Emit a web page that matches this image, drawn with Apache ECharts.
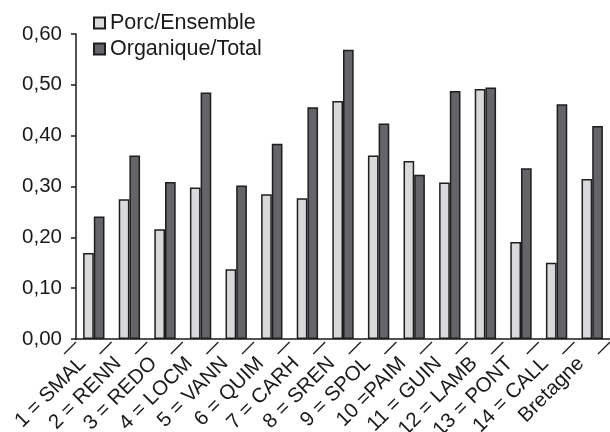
<!DOCTYPE html>
<html>
<head>
<meta charset="utf-8">
<script src="https://cdn.jsdelivr.net/npm/echarts@6/dist/echarts.min.js"></script>
<style>html,body{margin:0;padding:0;background:#fff}#c{width:610px;height:432px}</style>
</head>
<body>
<div id="c"></div>
<script>
const categories = ['1 = SMAL','2 = RENN','3 = REDO','4 = LOCM','5 = VANN','6 = QUIM','7 = CARH','8 = SREN','9 = SPOL','10 =PAIM','11 = GUIN','12 = LAMB','13 = PONT','14 = CALL','Bretagne'];
const porcEnsemble = [0.169,0.275,0.216,0.298,0.137,0.285,0.277,0.468,0.361,0.350,0.308,0.492,0.191,0.150,0.315];
const organiqueTotal = [0.241,0.361,0.309,0.485,0.302,0.384,0.456,0.569,0.424,0.323,0.488,0.495,0.336,0.462,0.419];
const yTicks = [0,0.1,0.2,0.3,0.4,0.5,0.6];

const FONT = '"Liberation Sans", Arial, sans-serif';
const chart = echarts.init(document.getElementById('c'), null, {renderer:'canvas'});
const borderCol = '#1e1e1e';
chart.setOption({
  animation:false,
  backgroundColor:'#fff',
  grid:{left:76,right:0,top:34,bottom:93,containLabel:false,outerBoundsMode:'none'},
  legend:{
    orient:'vertical', left:93, top:12, padding:0, itemWidth:11, itemHeight:11, itemGap:4,
    icon:'rect',
    textStyle:{fontFamily:FONT,fontSize:21.5,color:'#1a1a1a',lineHeight:21},
    data:['Porc/Ensemble','Organique/Total']
  },
  xAxis:{
    type:'category', data:categories,
    axisLine:{lineStyle:{color:'#1a1a1a',width:1.5}},
    axisTick:{show:false},
    axisLabel:{rotate:45,interval:0,fontFamily:FONT,fontSize:20.5,color:'#1a1a1a',margin:10,
      padding:[0,16,0,0],hideOverlap:false}
  },
  yAxis:{
    type:'value', min:yTicks[0], max:yTicks[yTicks.length-1], interval:0.1,
    splitLine:{show:false},
    axisLine:{show:true,lineStyle:{color:'#1a1a1a',width:1.5}},
    axisTick:{show:true,length:5,lineStyle:{color:'#1a1a1a',width:1.5}},
    axisLabel:{fontFamily:FONT,fontSize:20.5,color:'#1a1a1a',margin:14,
      formatter:v=>v.toFixed(2).replace('.',',')}
  },
  series:[
    {name:'Porc/Ensemble',type:'bar',data:porcEnsemble,barGap:'0%',barCategoryGap:'40%',
     itemStyle:{color:'#d9d9db',borderColor:borderCol,borderWidth:1.5}},
    {name:'Organique/Total',type:'bar',data:organiqueTotal,barGap:'0%',barCategoryGap:'40%',
     itemStyle:{color:'#646469',borderColor:borderCol,borderWidth:1.5}},
    {type:'custom',silent:true,clip:false,z:10,legendHoverLink:false,
     data:categories.map((c,i)=>[i]),
     renderItem:function(params,api){
       const i = api.value(0);
       const p = api.coord([i,0]);
       const bw = api.size([1,0])[0];
       const mk = bx => ({type:'line',shape:{x1:bx,y1:p[1]+3,x2:bx-12,y2:p[1]+15},
         style:{stroke:borderCol,lineWidth:1.3}});
       const ch = [mk(p[0]-bw/2)];
       if(i===categories.length-1) ch.push(mk(p[0]+bw/2));
       return {type:'group',children:ch};
     }}
  ]
});
</script>
</body>
</html>
